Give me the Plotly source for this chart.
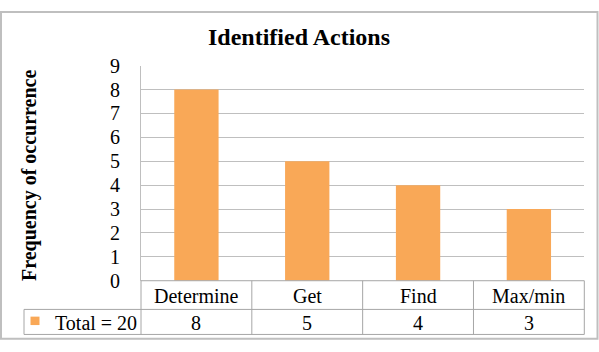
import plotly.graph_objects as go

categories = ["Determine", "Get", "Find", "Max/min"]
values = [8, 5, 4, 3]
series_name = "Total = 20"
y_ticks = [0, 1, 2, 3, 4, 5, 6, 7, 8, 9]
title_text = "Identified Actions"
y_title = "Frequency of occurrence"

W, H = 599, 352
BAR = "#F9A857"
GRID = "#BFBFBF"
TBL = "#A6A6A6"
FONT = "Liberation Serif"

def px(x):
    return x / W

def py(y):
    return 1 - y / H

left, right = 141, 584.3
top, bottom = 58.3, 287.7
row1, row2 = 318.3, 345.0
leg_left = 24

fig = go.Figure()
fig.add_trace(go.Bar(x=categories, y=values, marker=dict(color=BAR, line=dict(width=0)),
                     width=0.4, name=series_name, showlegend=False, hoverinfo="skip"))

fig.update_layout(
    width=W, height=H,
    margin=dict(l=0, r=0, t=0, b=0),
    paper_bgcolor="white", plot_bgcolor="white",
    font=dict(family=FONT, size=20, color="black"),
    xaxis=dict(domain=[px(left), px(right)], showticklabels=False, showgrid=False,
               zeroline=False, showline=False, ticks=""),
    yaxis=dict(domain=[py(bottom), py(top)], range=[0, 9], tickvals=y_ticks,
               showgrid=True, gridcolor=GRID, gridwidth=1, zeroline=False,
               showline=True, linecolor=GRID, linewidth=1, ticks="",
               ticklabelstandoff=16, tickfont=dict(family=FONT, size=20)),
    bargap=0.6,
)

shapes = []
# outer chart border
shapes.append(dict(type="rect", xref="paper", yref="paper", x0=px(1), x1=px(597.5), y0=py(349.5), y1=py(1),
                   line=dict(color=GRID, width=2), fillcolor="rgba(0,0,0,0)"))
# data table lines
shapes.append(dict(type="line", xref="paper", yref="paper", x0=px(left), x1=px(right), y0=py(bottom), y1=py(bottom),
                   line=dict(color=TBL, width=1)))
for yy in (row1, row2):
    shapes.append(dict(type="line", xref="paper", yref="paper", x0=px(leg_left), x1=px(right), y0=py(yy), y1=py(yy),
                       line=dict(color=TBL, width=1)))
colw = (right - left) / len(categories)
for i in range(len(categories) + 1):
    xx = left + i * colw
    shapes.append(dict(type="line", xref="paper", yref="paper", x0=px(xx), x1=px(xx), y0=py(bottom), y1=py(row2),
                       line=dict(color=TBL, width=1)))
shapes.append(dict(type="line", xref="paper", yref="paper", x0=px(leg_left), x1=px(leg_left), y0=py(row1), y1=py(row2),
                   line=dict(color=TBL, width=1)))
# legend key
shapes.append(dict(type="rect", xref="paper", yref="paper", x0=px(30.5), x1=px(39.5), y0=py(335), y1=py(326),
                   line=dict(width=0), fillcolor=BAR))
fig.update_layout(shapes=shapes)

ann = []
ann.append(dict(text="<b>" + title_text + "</b>", xref="paper", yref="paper", x=px(299), y=py(28),
                showarrow=False, font=dict(family=FONT, size=24, color="black"), xanchor="center", yanchor="middle"))
ann.append(dict(text="<b>" + y_title + "</b>", xref="paper", yref="paper", x=px(29), y=py(175),
                showarrow=False, textangle=-90, font=dict(family=FONT, size=20, color="black"),
                xanchor="center", yanchor="middle"))
for c, v in zip(categories, values):
    ann.append(dict(text=c, xref="x", yref="paper", x=c, y=py((bottom + row1) / 2 + 1),
                    showarrow=False, font=dict(family=FONT, size=20), xanchor="center", yanchor="middle"))
    ann.append(dict(text=str(v), xref="x", yref="paper", x=c, y=py((row1 + row2) / 2 + 1),
                    showarrow=False, font=dict(family=FONT, size=20), xanchor="center", yanchor="middle"))
ann.append(dict(text=series_name, xref="paper", yref="paper", x=px(53), y=py((row1 + row2) / 2 + 1),
                showarrow=False, font=dict(family=FONT, size=20), xanchor="left", yanchor="middle"))
fig.update_layout(annotations=ann)

fig.write_html("out.html", config={"displayModeBar": False},
               post_script="document.body.style.margin='0';document.body.style.overflow='hidden';")
